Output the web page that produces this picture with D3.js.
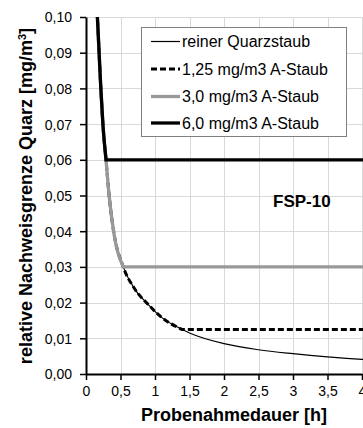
<!DOCTYPE html>
<html>
<head>
<meta charset="utf-8">
<script src="https://cdn.jsdelivr.net/npm/d3@7"></script>
<style>
  body { margin: 0; background: #fff; }
  text { font-family: "Liberation Sans", Arial, sans-serif; }
</style>
</head>
<body>
<script>
// x ticks / y ticks
const xTicks = [0, 0.5, 1, 1.5, 2, 2.5, 3, 3.5, 4];
const yTicks = [0, 0.01, 0.02, 0.03, 0.04, 0.05, 0.06, 0.07, 0.08, 0.09, 0.10];

// reiner Quarzstaub
const tReiner = [0.155, 0.19, 0.215, 0.245, 0.29, 0.335, 0.40, 0.54, 0.70, 0.90, 1.1, 1.36, 1.5, 2, 2.5, 3, 3.5, 4, 4.2];
const yReiner = [0.104, 0.090, 0.080, 0.070, 0.060, 0.050, 0.040, 0.030, 0.024, 0.0195, 0.0158, 0.0128, 0.0115, 0.0085, 0.0068, 0.0057, 0.0048, 0.0041, 0.0039];

// 1,25 mg/m3 A-Staub
const tStaub125 = [0.155, 0.19, 0.215, 0.245, 0.29, 0.335, 0.40, 0.54, 0.70, 0.90, 1.1, 1.39, 4.2];
const yStaub125 = [0.104, 0.090, 0.080, 0.070, 0.060, 0.050, 0.040, 0.030, 0.024, 0.0195, 0.0158, 0.0125, 0.0125];

// 3,0 mg/m3 A-Staub
const tStaub30 = [0.155, 0.19, 0.215, 0.245, 0.29, 0.335, 0.40, 0.54, 4.2];
const yStaub30 = [0.104, 0.090, 0.080, 0.070, 0.060, 0.050, 0.040, 0.030, 0.030];

// 6,0 mg/m3 A-Staub
const tStaub60 = [0.155, 0.19, 0.215, 0.245, 0.29, 4.2];
const yStaub60 = [0.104, 0.090, 0.080, 0.070, 0.060, 0.060];

const legendLabels = ["reiner Quarzstaub", "1,25 mg/m3 A-Staub", "3,0 mg/m3 A-Staub", "6,0 mg/m3 A-Staub"];

const width = 363, height = 428;
const plotL = 86, plotT = 17, plotB = 374, plotR = 362;

const x = d3.scaleLinear().domain([0, 4]).range([plotL, plotR]);
const y = d3.scaleLinear().domain([0, 0.10]).range([plotB, plotT]);
const fmt = d => String(d).replace(".", ",");

const svg = d3.select("body").append("svg")
    .attr("width", width)
    .attr("height", height);

svg.append("defs").append("clipPath").attr("id", "plot")
  .append("rect")
    .attr("x", plotL).attr("y", plotT)
    .attr("width", width - plotL).attr("height", plotB - plotT);

// grid
const grid = svg.append("g").attr("stroke", "#d9d9d9").attr("stroke-width", 1);
grid.selectAll(".gy").data(yTicks.slice(1)).enter().append("line")
    .attr("x1", plotL).attr("x2", width)
    .attr("y1", d => Math.round(y(d)) + 0.5).attr("y2", d => Math.round(y(d)) + 0.5);
grid.selectAll(".gx").data(xTicks.slice(1)).enter().append("line")
    .attr("y1", plotT).attr("y2", plotB)
    .attr("x1", d => Math.round(x(d)) + 0.5).attr("x2", d => Math.round(x(d)) + 0.5);

// series
const styles = [
  {t: tReiner, v: yReiner, stroke: "#000", w: 1.2, dash: null, corner: tReiner.length},
  {t: tStaub125, v: yStaub125, stroke: "#000", w: 3, dash: "6,3", corner: tStaub125.length - 1},
  {t: tStaub30, v: yStaub30, stroke: "#999", w: 3.3, dash: null, corner: tStaub30.length - 1},
  {t: tStaub60, v: yStaub60, stroke: "#000", w: 3.3, dash: null, corner: tStaub60.length - 1}
];

const curveLine = d3.line().x(d => x(d[0])).y(d => y(d[1])).curve(d3.curveMonotoneX);

const plot = svg.append("g").attr("clip-path", "url(#plot)");
styles.forEach(function(s) {
  const pts = s.t.map((t, i) => [t, s.v[i]]);
  let d = curveLine(pts.slice(0, s.corner));
  pts.slice(s.corner).forEach(p => { d += "L" + x(p[0]) + "," + y(p[1]); });
  plot.append("path")
      .attr("d", d)
      .attr("fill", "none")
      .attr("stroke", s.stroke)
      .attr("stroke-width", s.w)
      .attr("stroke-dasharray", s.dash)
      .attr("stroke-linejoin", "miter");
});

// axes
const yAxis = svg.append("g")
    .attr("transform", "translate(" + plotL + ",0)")
    .call(d3.axisLeft(y).tickValues(yTicks).tickFormat(d => d3.format(".2f")(d).replace(".", ",")).tickSize(6).tickSizeOuter(0));
const xAxis = svg.append("g")
    .attr("transform", "translate(0," + plotB + ")")
    .call(d3.axisBottom(x).tickValues(xTicks).tickFormat(fmt).tickSize(6).tickSizeOuter(0));

[yAxis, xAxis].forEach(function(a) {
  a.select(".domain").attr("stroke", "#000").attr("stroke-width", 2);
  a.selectAll(".tick line").attr("stroke", "#000").attr("stroke-width", 1.5);
  a.selectAll(".tick text").attr("fill", "#000").style("font-size", "14px")
      .style("font-family", "'Liberation Sans', Arial, sans-serif");
});
yAxis.selectAll(".tick text").attr("x", -14).attr("dy", "0.35em");
xAxis.selectAll(".tick text").attr("y", 12);

// axis titles
svg.append("text")
    .attr("x", 234)
    .attr("y", 421)
    .attr("text-anchor", "middle")
    .style("font-size", "18px")
    .style("font-weight", "bold")
    .text("Probenahmedauer [h]");

const yt = svg.append("text")
    .attr("transform", "translate(32,196) rotate(-90)")
    .attr("text-anchor", "middle")
    .style("font-size", "18px")
    .style("font-weight", "bold");
yt.append("tspan").text("relative Nachweisgrenze Quarz [mg/m");
yt.append("tspan").attr("baseline-shift", "super").style("font-size", "11px").text("3");
yt.append("tspan").text("]");

// FSP-10
svg.append("text")
    .attr("x", 273)
    .attr("y", 207)
    .style("font-size", "17px")
    .style("font-weight", "bold")
    .text("FSP-10");

// legend
const lg = svg.append("g");
lg.append("rect")
    .attr("x", 141.5).attr("y", 27.5)
    .attr("width", 205).attr("height", 109)
    .attr("fill", "#fff")
    .attr("stroke", "#808080")
    .attr("stroke-width", 1);

const rowY = [41.5, 69, 96.5, 123];
styles.forEach(function(s, i) {
  lg.append("line")
      .attr("x1", 151).attr("x2", 180)
      .attr("y1", rowY[i]).attr("y2", rowY[i])
      .attr("stroke", s.stroke)
      .attr("stroke-width", s.w)
      .attr("stroke-dasharray", s.dash);
  lg.append("text")
      .attr("x", 182)
      .attr("y", rowY[i])
      .attr("dy", "0.35em")
      .style("font-size", "16px")
      .text(legendLabels[i]);
});
</script>
</body>
</html>
